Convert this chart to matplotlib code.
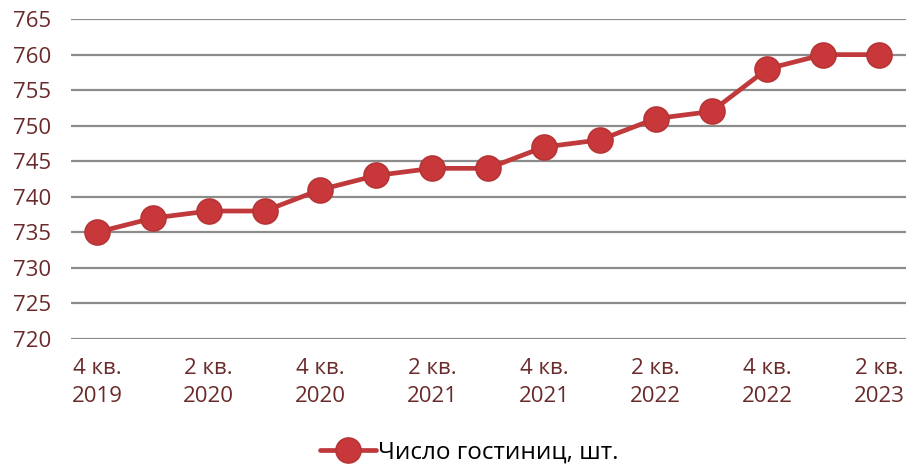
import matplotlib
matplotlib.use("Agg")
import matplotlib.pyplot as plt

quarters = ["4 кв.\n2019", "1 кв.\n2020", "2 кв.\n2020", "3 кв.\n2020", "4 кв.\n2020",
            "1 кв.\n2021", "2 кв.\n2021", "3 кв.\n2021", "4 кв.\n2021", "1 кв.\n2022",
            "2 кв.\n2022", "3 кв.\n2022", "4 кв.\n2022", "1 кв.\n2023", "2 кв.\n2023"]
hotels = [735, 737, 738, 738, 741, 743, 744, 744, 747, 748, 751, 752, 758, 760, 760]
yticks = [720, 725, 730, 735, 740, 745, 750, 755, 760, 765]
series_name = "Число гостиниц, шт."

plt.rcParams['font.family'] = ['Open Sans', 'DejaVu Sans']

fig = plt.figure(figsize=(9.06, 4.65), dpi=100)
ax = fig.add_axes([0.078, 0.271, 0.922, 0.688])

x = list(range(len(hotels)))
ax.plot(x, hotels, color="#C0393B", lw=3.4, marker="o", markersize=18,
        markerfacecolor="#C8383A", markeredgecolor="#B73436", markeredgewidth=1.2,
        label=series_name, zorder=3, solid_capstyle="round")

ax.set_ylim(720, 765)
ax.set_yticks(yticks)
ax.set_xlim(-0.47, 14.48)
ax.set_xticks(x[::2])
ax.set_xticklabels(quarters[::2])
ax.grid(axis="y", color="#8C8C8C", lw=1.6)
ax.set_axisbelow(True)
for s in ax.spines.values():
    s.set_visible(False)
ax.tick_params(axis="both", length=0, labelsize=16, colors="#6B2A2A")
ax.tick_params(axis="y", pad=14)
ax.tick_params(axis="x", pad=14)
for lab in ax.get_xticklabels():
    lab.set_linespacing(1.38)

leg = fig.legend(loc="center", bbox_to_anchor=(0.518, 0.026), frameon=False,
                 fontsize=17.5, handlelength=2.3, handletextpad=0.1, markerscale=1.0)
for t in leg.get_texts():
    t.set_color("black")

fig.savefig("out.png", dpi=100)
